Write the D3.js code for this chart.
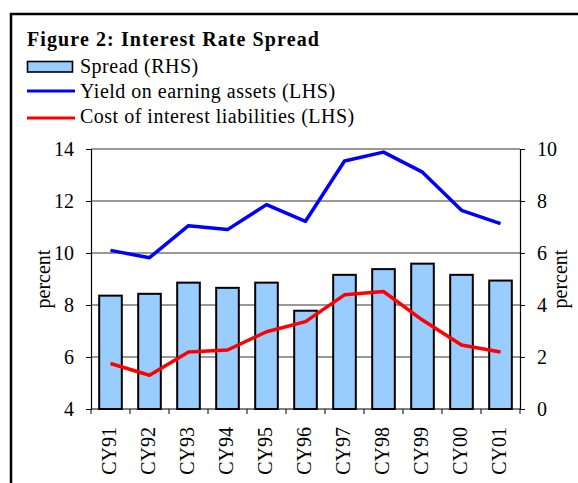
<!DOCTYPE html>
<html>
<head>
<meta charset="utf-8">
<script src="https://d3js.org/d3.v7.min.js"></script>
<style>
  body { margin: 0; background: #fff; }
</style>
</head>
<body>
<div id="chart"></div>
<script>
"use strict"

var anos = ["CY91", "CY92", "CY93", "CY94", "CY95", "CY96", "CY97", "CY98", "CY99", "CY00", "CY01"];
var spread = [4.36, 4.43, 4.86, 4.66, 4.86, 3.78, 5.16, 5.38, 5.59, 5.16, 4.94];
var rendimento = [10.10, 9.82, 11.05, 10.90, 11.86, 11.22, 13.54, 13.88, 13.11, 11.64, 11.13];
var custo = [5.75, 5.30, 6.19, 6.27, 6.97, 7.36, 8.39, 8.52, 7.42, 6.46, 6.19];
var ticksEsq = [4, 6, 8, 10, 12, 14];
var ticksDir = [0, 2, 4, 6, 8, 10];

var fonte = "Liberation Serif";
var largura = 578, altura = 483;
var margin = {top: 149, right: 58, bottom: 74, left: 91};
var larguraVis = largura - margin.left - margin.right,
    alturaVis = altura - margin.top - margin.bottom;

var svg = d3.select('#chart')
  .append('svg')
    .attr('width', largura)
    .attr('height', altura);

// moldura
svg.append('rect')
  .attr('x', 11).attr('y', 14)
  .attr('width', 620).attr('height', 520)
  .attr('fill', 'none')
  .attr('stroke', '#000')
  .attr('stroke-width', 2.5);

svg.append('text')
  .attr('x', 27).attr('y', 46)
  .attr('font-family', fonte)
  .attr('font-size', 20)
  .attr('font-weight', 'bold')
  .attr('letter-spacing', 1.1)
  .text('Figure 2: Interest Rate Spread');

// legenda
var legenda = svg.append('g');
legenda.append('rect')
  .attr('x', 27.5).attr('y', 61.5).attr('width', 45).attr('height', 10.5)
  .attr('fill', '#99ccff').attr('stroke', '#000').attr('stroke-width', 1.6);
legenda.append('line')
  .attr('x1', 27).attr('x2', 75).attr('y1', 91).attr('y2', 91)
  .attr('stroke', '#0000ff').attr('stroke-width', 3);
legenda.append('line')
  .attr('x1', 27).attr('x2', 75).attr('y1', 118).attr('y2', 118)
  .attr('stroke', '#ff0000').attr('stroke-width', 3);
var textosLegenda = ['Spread (RHS)', 'Yield on earning assets (LHS)', 'Cost of interest liabilities (LHS)'];
legenda.selectAll('text.leg')
  .data(textosLegenda)
  .enter()
  .append('text')
    .attr('class', 'leg')
    .attr('x', 80)
    .attr('y', (d, i) => 73 + i * 25)
    .attr('font-family', fonte)
    .attr('font-size', 20)
    .attr('letter-spacing', 0.5)
    .text(d => d);

var grafico = svg.append('g')
  .attr('transform', 'translate(' + margin.left + ',' + margin.top + ')');

var x = d3.scaleBand()
  .domain(anos)
  .range([0, larguraVis])
  .paddingInner(0.42)
  .paddingOuter(0.21);

var xFaixa = d3.scaleBand().domain(anos).range([0, larguraVis]);

var yEsq = d3.scaleLinear().domain([4, 14]).range([alturaVis, 0]);
var yDir = d3.scaleLinear().domain([0, 10]).range([alturaVis, 0]);

// grade
grafico.append('g')
  .selectAll('line')
  .data(ticksEsq.slice(1))
  .enter()
  .append('line')
    .attr('x1', 0).attr('x2', larguraVis)
    .attr('y1', d => yEsq(d)).attr('y2', d => yEsq(d))
    .attr('stroke', '#333').attr('stroke-width', 1);

// barras
grafico.selectAll('rect.barra')
  .data(spread)
  .enter()
  .append('rect')
    .attr('class', 'barra')
    .attr('x', (d, i) => x(anos[i]))
    .attr('y', d => yDir(d))
    .attr('width', x.bandwidth())
    .attr('height', d => yDir(0) - yDir(d))
    .attr('fill', '#99ccff')
    .attr('stroke', '#000')
    .attr('stroke-width', 2);

var linha = function(escala) {
  return d3.line()
    .x((d, i) => xFaixa(anos[i]) + xFaixa.bandwidth() / 2)
    .y(d => escala(d));
};

grafico.append('path')
  .datum(rendimento)
  .attr('d', linha(yEsq))
  .attr('fill', 'none')
  .attr('stroke', '#0000ff')
  .attr('stroke-width', 3.5)
  .attr('stroke-linejoin', 'round');

grafico.append('path')
  .datum(custo)
  .attr('d', linha(yEsq))
  .attr('fill', 'none')
  .attr('stroke', '#ff0000')
  .attr('stroke-width', 3.5)
  .attr('stroke-linejoin', 'round');

// eixos
var eixoEsq = grafico.append('g')
  .call(d3.axisLeft(yEsq).tickValues(ticksEsq).tickSize(5).tickPadding(12));
var eixoDir = grafico.append('g')
  .attr('transform', 'translate(' + larguraVis + ',0)')
  .call(d3.axisRight(yDir).tickValues(ticksDir).tickSize(5).tickPadding(12));

var fronteiras = anos.map(a => xFaixa(a)).concat([larguraVis]);
var eixoX = grafico.append('g')
  .attr('transform', 'translate(0,' + alturaVis + ')');
eixoX.append('line')
  .attr('x1', 0).attr('x2', larguraVis)
  .attr('stroke', '#000').attr('stroke-width', 1.2);
eixoX.selectAll('line.tick')
  .data(fronteiras)
  .enter()
  .append('line')
    .attr('class', 'tick')
    .attr('x1', d => d).attr('x2', d => d)
    .attr('y1', 0).attr('y2', 5)
    .attr('stroke', '#000');
eixoX.selectAll('text')
  .data(anos)
  .enter()
  .append('text')
    .attr('transform', d => 'translate(' + (xFaixa(d) + xFaixa.bandwidth() / 2 + 5) + ',18) rotate(-90)')
    .attr('text-anchor', 'end')
    .attr('font-family', fonte)
    .attr('font-size', 20)
    .text(d => d);

[eixoEsq, eixoDir].forEach(function(g) {
  g.attr('font-family', fonte).attr('font-size', 20);
  g.select('.domain').attr('stroke', '#000').attr('stroke-width', 1.2);
  g.selectAll('.tick line').attr('stroke', '#000');
  g.selectAll('.tick text').attr('fill', '#000');
});

grafico.append('text')
  .attr('transform', 'translate(-41,' + (alturaVis / 2) + ') rotate(-90)')
  .attr('text-anchor', 'middle')
  .attr('font-family', fonte)
  .attr('font-size', 20)
  .text('percent');

grafico.append('text')
  .attr('transform', 'translate(' + (larguraVis + 47) + ',' + (alturaVis / 2) + ') rotate(-90)')
  .attr('text-anchor', 'middle')
  .attr('font-family', fonte)
  .attr('font-size', 20)
  .text('percent');
</script>
</body>
</html>
